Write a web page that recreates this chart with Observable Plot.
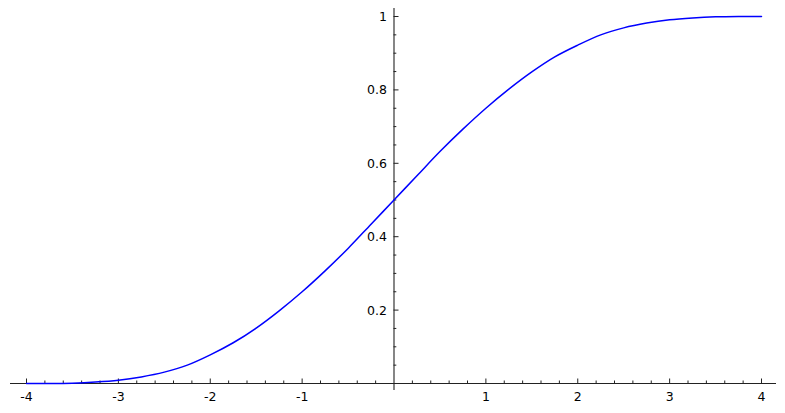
<!DOCTYPE html>
<html>
<head>
<meta charset="utf-8">
<script src="https://cdn.jsdelivr.net/npm/d3@7"></script>
<script src="https://cdn.jsdelivr.net/npm/@observablehq/plot@0.6"></script>
<style>
  html, body { margin: 0; padding: 0; background: #fff; }
  #chart svg text { font-family: "DejaVu Sans", sans-serif; font-size: 12.5px; }
</style>
</head>
<body>
<div id="chart"></div>
<script>
// Curve values
const xs = [-4, -3.75, -3.5, -3.25, -3, -2.75, -2.5, -2.25, -2, -1.75, -1.5, -1.25, -1, -0.75, -0.5, -0.25,
            0, 0.25, 0.5, 0.75, 1, 1.25, 1.5, 1.75, 2, 2.25, 2.5, 2.75, 3, 3.25, 3.5, 3.75, 4];
const ys = [0, 0, 0.001, 0.004, 0.009, 0.018, 0.031, 0.050, 0.078, 0.111, 0.151, 0.198, 0.250, 0.307, 0.368, 0.434,
            0.5, 0.566, 0.632, 0.693, 0.750, 0.802, 0.849, 0.890, 0.922, 0.950, 0.969, 0.982, 0.991, 0.996, 0.999, 1.0, 1.0];

// Tick labels
const xTicks = [-4, -3, -2, -1, 1, 2, 3, 4];
const xTickLabels = ["-4", "-3", "-2", "-1", "1", "2", "3", "4"];
const yTicks = [0.2, 0.4, 0.6, 0.8, 1];
const yTickLabels = ["0.2", "0.4", "0.6", "0.8", "1"];

const W = 785, H = 413;
const mL = 26, mR = 24, mT = 16, mB = 30;
const pxPerX = (W - mL - mR) / 8;   // pixels per x unit
const pxPerY = (H - mT - mB) / 1;   // pixels per y unit

const curve = xs.map((x, i) => ({x, y: ys[i]}));
const xMinor = d3.range(-20, 21).map(i => i / 5).filter(v => Math.abs(v - Math.round(v)) > 1e-9);
const yMinor = d3.range(1, 21).map(i => i / 20).filter(v => Math.abs(v * 5 - Math.round(v * 5)) > 1e-9);

const axisColor = "#222";
const px2x = p => p / pxPerX;
const px2y = p => p / pxPerY;

const chart = Plot.plot({
  width: W,
  height: H,
  marginLeft: mL, marginRight: mR, marginTop: mT, marginBottom: mB,
  x: {domain: [-4, 4], axis: null},
  y: {domain: [0, 1], axis: null},
  style: {background: "#fff", fontFamily: "DejaVu Sans, sans-serif", fontSize: "12.5px", overflow: "visible"},
  marks: [
    // axis lines
    Plot.ruleY([0], {x1: -4 - px2x(16), x2: 4 + px2x(15), stroke: axisColor, strokeWidth: 1.1}),
    Plot.ruleX([0], {y1: -px2y(7), y2: 1 + px2y(8), stroke: axisColor, strokeWidth: 1.1}),
    // x ticks (pointing up)
    Plot.ruleX(xTicks, {x: d => d, y1: 0, y2: px2y(4.5), stroke: axisColor, strokeWidth: 1}),
    Plot.ruleX(xMinor, {x: d => d, y1: 0, y2: px2y(2.5), stroke: axisColor, strokeWidth: 1}),
    // y ticks (pointing right)
    Plot.ruleY(yTicks, {y: d => d, x1: 0, x2: px2x(5), stroke: axisColor, strokeWidth: 1}),
    Plot.ruleY(yMinor, {y: d => d, x1: 0, x2: px2x(2.8), stroke: axisColor, strokeWidth: 1}),
    // tick labels
    Plot.text(xTicks, {x: d => d, y: 0, text: (d, i) => xTickLabels[i], dy: 13, fontSize: 12.5, textAnchor: "middle", lineAnchor: "middle", fill: "#000"}),
    Plot.text(yTicks, {x: 0, y: d => d, text: (d, i) => yTickLabels[i], dx: -7, dy: 0.5, fontSize: 12.5, textAnchor: "end", lineAnchor: "middle", fill: "#000"}),
    // curve
    Plot.line(curve, {x: "x", y: "y", stroke: "#0000ff", strokeWidth: 1.5, curve: "catmull-rom"})
  ]
});
document.getElementById("chart").appendChild(chart);
</script>
</body>
</html>
